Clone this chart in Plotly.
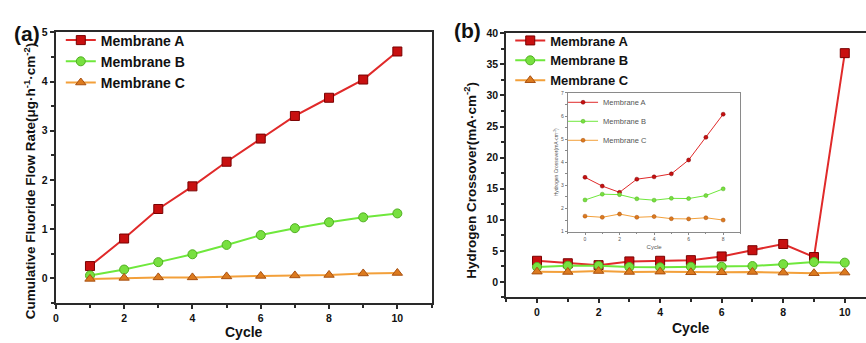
import plotly.graph_objects as go

# ---------------- data ----------------
cycles_a = [1, 2, 3, 4, 5, 6, 7, 8, 9, 10]
fluoride_A = [0.25, 0.81, 1.41, 1.87, 2.37, 2.84, 3.30, 3.67, 4.04, 4.61]
fluoride_B = [0.06, 0.18, 0.33, 0.49, 0.68, 0.88, 1.02, 1.14, 1.24, 1.32]
fluoride_C = [-0.01, 0.01, 0.02, 0.02, 0.04, 0.05, 0.06, 0.07, 0.10, 0.11]

cycles_b = [0, 1, 2, 3, 4, 5, 6, 7, 8, 9, 10]
crossover_A = [3.4, 3.0, 2.7, 3.3, 3.4, 3.5, 4.1, 5.1, 6.1, 4.0, 36.8]
crossover_B = [2.4, 2.6, 2.6, 2.4, 2.35, 2.45, 2.45, 2.55, 2.85, 3.2, 3.1]
crossover_C = [1.65, 1.6, 1.75, 1.6, 1.65, 1.55, 1.55, 1.6, 1.5, 1.4, 1.5]

cycles_inset = [0, 1, 2, 3, 4, 5, 6, 7, 8]
inset_A = [3.35, 2.97, 2.70, 3.27, 3.37, 3.50, 4.10, 5.08, 6.08]
inset_B = [2.37, 2.62, 2.60, 2.42, 2.36, 2.44, 2.43, 2.56, 2.85]
inset_C = [1.67, 1.62, 1.76, 1.62, 1.65, 1.56, 1.55, 1.60, 1.50]

names = ["Membrane A", "Membrane B", "Membrane C"]

# ---------------- styles ----------------
FONT = "Liberation Sans, Arial, sans-serif"
line_cols = ["#e02a2a", "#6fe83c", "#f3a03a"]
mark_cols = ["#c81010", "#78e040", "#dc7a1e"]
mark_edge = ["#7a0000", "#50b020", "#a85010"]
symbols = ["square", "circle", "triangle-up"]
W, H = 866, 343

fig = go.Figure()

def px_x(p):
    return p / W

def px_y(p):
    return 1 - p / H

# panel (a)
for i, ys in enumerate([fluoride_A, fluoride_B, fluoride_C]):
    fig.add_trace(go.Scatter(
        x=cycles_a, y=ys, name=names[i], mode="lines+markers",
        line=dict(color=line_cols[i], width=2),
        marker=dict(symbol=symbols[i], size=9, color=mark_cols[i],
                    line=dict(color=mark_edge[i], width=1)),
        xaxis="x", yaxis="y", legend="legend"))

# panel (b)
for i, ys in enumerate([crossover_A, crossover_B, crossover_C]):
    fig.add_trace(go.Scatter(
        x=cycles_b, y=ys, name=names[i], mode="lines+markers",
        line=dict(color=line_cols[i], width=2),
        marker=dict(symbol=symbols[i], size=9, color=mark_cols[i],
                    line=dict(color=mark_edge[i], width=1)),
        xaxis="x2", yaxis="y2", legend="legend2"))

# inset
for i, ys in enumerate([inset_A, inset_B, inset_C]):
    fig.add_trace(go.Scatter(
        x=cycles_inset, y=ys, name=names[i], mode="lines+markers",
        line=dict(color=line_cols[i], width=1),
        marker=dict(symbol="circle", size=4, color=mark_cols[i],
                    line=dict(color=mark_edge[i], width=0.5)),
        xaxis="x3", yaxis="y3", legend="legend3"))

axcol = "#2a2a2a"
main_axis = dict(showline=True, linecolor=axcol, linewidth=2, ticks="outside",
                 ticklen=4, tickwidth=1.5, tickcolor=axcol, showgrid=False,
                 zeroline=False,
                 tickfont=dict(family=FONT, size=10.5, color="#111", weight="bold"))

def label(text, x, y, size, angle=0, color="#111", weight="bold"):
    return dict(text=text, x=px_x(x), y=px_y(y), xref="paper", yref="paper",
                xanchor="center", yanchor="middle", showarrow=False,
                textangle=angle,
                font=dict(family=FONT, size=size, color=color, weight=weight))

fig.update_layout(
    width=W, height=H, margin=dict(l=0, r=0, t=0, b=0),
    paper_bgcolor="white", plot_bgcolor="rgba(0,0,0,0)",
    font=dict(family=FONT, color="#111"),
    xaxis=dict(**main_axis, domain=[px_x(53), px_x(430)], range=[0, 11],
               tick0=0, dtick=2, mirror=True, anchor="y",
               minor=dict(ticks="outside", ticklen=3, dtick=1, tickcolor=axcol)),
    yaxis=dict(**main_axis, domain=[px_y(305), px_y(27)], range=[-0.5, 5],
               tick0=0, dtick=1, mirror=True, anchor="x",
               minor=dict(ticks="outside", ticklen=3, dtick=0.5, tickcolor=axcol)),
    xaxis2=dict(**main_axis, domain=[px_x(505), 1.0], range=[-1, 10.69],
                tick0=0, dtick=2, mirror=True, anchor="y2",
                minor=dict(ticks="outside", ticklen=3, dtick=1, tickcolor=axcol)),
    yaxis2=dict(**main_axis, domain=[px_y(299.3), px_y(28)], range=[-2.5, 40],
                tick0=0, dtick=5, mirror=False, anchor="x2",
                minor=dict(ticks="outside", ticklen=3, dtick=2.5, tickcolor=axcol)),
    xaxis3=dict(domain=[px_x(566.7), px_x(740)], range=[-1, 9], anchor="y3",
                showline=True, linecolor="#8a8a8a", linewidth=1, mirror=True,
                ticks="outside", ticklen=2, tickcolor="#8a8a8a", tick0=0, dtick=2,
                minor=dict(ticks="outside", ticklen=1.5, dtick=1, tickcolor="#8a8a8a"),
                showgrid=False, zeroline=False,
                tickfont=dict(family=FONT, size=5, color="#555"),
                title=dict(text="Cycle", standoff=4,
                           font=dict(family=FONT, size=6, color="#555"))),
    yaxis3=dict(domain=[px_y(231.7), px_y(89.3)], range=[1, 7], anchor="x3",
                showline=True, linecolor="#8a8a8a", linewidth=1, mirror=True,
                ticks="outside", ticklen=2, tickcolor="#8a8a8a", tick0=1, dtick=1,
                minor=dict(ticks="outside", ticklen=1.5, dtick=0.5, tickcolor="#8a8a8a"),
                showgrid=False, zeroline=False,
                tickfont=dict(family=FONT, size=5, color="#555"),
                title=dict(text="Hydrogen Crossover(mA·cm<sup>-2</sup>)", standoff=2,
                           font=dict(family=FONT, size=5, color="#555"))),
    legend=dict(x=px_x(58), y=px_y(19), xanchor="left", yanchor="top",
                bgcolor="rgba(0,0,0,0)", borderwidth=0, tracegroupgap=0,
                font=dict(family=FONT, size=14, color="#111", weight="bold")),
    legend2=dict(x=px_x(509), y=px_y(20), xanchor="left", yanchor="top",
                 bgcolor="rgba(0,0,0,0)", borderwidth=0, tracegroupgap=0,
                 font=dict(family=FONT, size=13, color="#111", weight="bold")),
    legend3=dict(x=px_x(562), y=px_y(84), xanchor="left", yanchor="top",
                 bgcolor="rgba(0,0,0,0)", borderwidth=0, tracegroupgap=0,
                 itemwidth=30,
                 font=dict(family=FONT, size=7.5, color="#555")),
    annotations=[
        label("(a)", 24, 28, 21),
        label("(b)", 466, 25, 21),
        label("Cumulative Fluoride Flow Rate(μg·h<sup>-1</sup>·cm<sup>-2</sup>)",
              27, 180, 13.5, angle=-90),
        label("Hydrogen Crossover(mA·cm<sup>-2</sup>)", 469, 179, 13.5, angle=-90),
        label("Cycle", 241.5, 335, 14),
        label("Cycle", 690, 331, 14),
    ],
)

fig.write_html("out.html", config={"displayModeBar": False},
               post_script="document.body.style.margin='0px';document.body.style.padding='0px';")
